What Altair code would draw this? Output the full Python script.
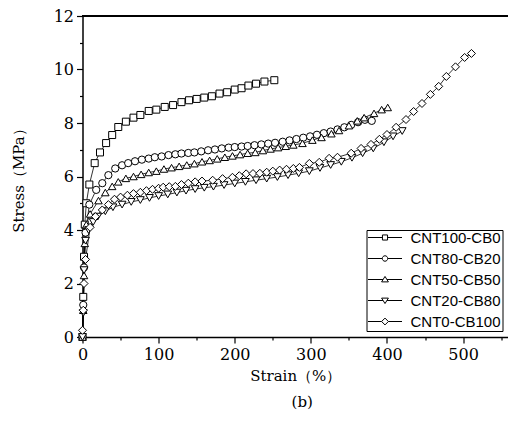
import altair as alt
import pandas as pd

series_names = ["CNT100-CB0", "CNT80-CB20", "CNT50-CB50", "CNT20-CB80", "CNT0-CB100"]

strain_100_0 = [0, 1, 2, 3, 5, 9, 16, 23, 31, 39, 47, 57, 67, 76, 87, 97, 108, 119, 130, 140,
                150, 160, 170, 180, 190, 200, 209, 218, 228, 239, 252]
stress_100_0 = [0, 1.5, 3.0, 4.2, 5.0, 5.7, 6.5, 6.9, 7.25, 7.55, 7.85, 8.05, 8.2, 8.3, 8.45, 8.5, 8.6,
                8.67, 8.78, 8.85, 8.9, 8.95, 9.0, 9.1, 9.15, 9.25, 9.3, 9.4, 9.47, 9.55, 9.6]

strain_80_20 = [0, 1, 2, 4, 9, 18, 26, 34, 43, 52, 60, 69, 78, 87, 95, 104, 113, 122, 130, 139,
                147, 156, 165, 174, 183, 192, 200, 209, 217, 226, 235, 244, 253, 263, 272, 281, 290,
                299, 308, 317, 326, 335, 344, 353, 362, 371, 380]
stress_80_20 = [0, 1.2, 2.6, 3.9, 4.95, 5.5, 5.75, 6.05, 6.3, 6.42, 6.5, 6.57, 6.63, 6.67, 6.72, 6.75,
                6.8, 6.83, 6.86, 6.88, 6.9, 6.94, 6.98, 7.01, 7.05, 7.08, 7.1, 7.12, 7.14, 7.17, 7.2,
                7.23, 7.26, 7.3, 7.35, 7.4, 7.45, 7.5, 7.56, 7.62, 7.68, 7.76, 7.84, 7.93, 8.03, 8.12, 8.08]

strain_50_50 = [0, 1, 2, 3, 5, 10, 21, 30, 39, 47, 57, 67, 77, 87, 97, 107, 117, 127, 137, 147,
                157, 167, 177, 187, 197, 207, 217, 227, 237, 247, 257, 267, 277, 289, 302, 314, 327,
                337, 350, 361, 370, 383, 393, 401]
stress_50_50 = [0, 1.0, 2.3, 3.5, 4.2, 4.6, 5.1, 5.4, 5.63, 5.8, 5.93, 6.0, 6.08, 6.15, 6.2, 6.28,
                6.33, 6.38, 6.43, 6.48, 6.55, 6.6, 6.66, 6.72, 6.77, 6.82, 6.87, 6.9, 6.97, 7.03, 7.08,
                7.13, 7.18, 7.24, 7.36, 7.46, 7.6, 7.72, 7.9, 8.08, 8.2, 8.36, 8.5, 8.58]

strain_20_80 = [0, 1, 2, 4, 8, 14, 20, 30, 40, 52, 64, 76, 88, 100, 112, 124, 136, 148, 160, 172,
                186, 200, 214, 228, 242, 256, 270, 284, 298, 312, 326, 340, 354, 368, 382, 396, 408, 420]
stress_20_80 = [0, 0.9, 2.5, 3.6, 4.0, 4.3, 4.5, 4.7, 4.85, 4.95, 5.05, 5.12, 5.2, 5.27, 5.33, 5.4,
                5.47, 5.53, 5.58, 5.62, 5.68, 5.74, 5.8, 5.86, 5.92, 5.98, 6.05, 6.12, 6.2, 6.32, 6.43,
                6.55, 6.7, 6.87, 7.05, 7.28, 7.5, 7.7]

strain_0_100 = [0, 1, 2, 4, 10, 17, 26, 34, 42, 50, 59, 67, 76, 84, 92, 100, 106, 114, 122, 130,
                139, 148, 157, 171, 184, 197, 206, 215, 224, 233, 242, 250, 259, 268, 277, 285, 298,
                311, 324, 335, 353, 366, 379, 390, 400, 412, 425, 435, 446, 457, 468, 478, 490, 502, 511]
stress_0_100 = [0.25, 1.0, 2.0, 2.9, 4.1, 4.5, 4.75, 4.95, 5.15, 5.23, 5.3, 5.36, 5.41, 5.47, 5.52,
                5.56, 5.6, 5.62, 5.63, 5.7, 5.75, 5.8, 5.83, 5.86, 5.92, 5.97, 6.03, 6.1, 6.11, 6.12,
                6.16, 6.2, 6.24, 6.27, 6.3, 6.34, 6.49, 6.53, 6.68, 6.72, 6.87, 7.05, 7.2, 7.39, 7.57,
                7.84, 8.13, 8.43, 8.73, 9.07, 9.37, 9.74, 10.1, 10.45, 10.6]

x_ticks = [0, 50, 100, 150, 200, 250, 300, 350, 400, 450, 500, 550]
y_ticks = list(range(0, 13))

all_series = [
    (series_names[0], strain_100_0, stress_100_0),
    (series_names[1], strain_80_20, stress_80_20),
    (series_names[2], strain_50_50, stress_50_50),
    (series_names[3], strain_20_80, stress_20_80),
    (series_names[4], strain_0_100, stress_0_100),
]
rows = []
for name, xs, ys in all_series:
    for i, (a, b) in enumerate(zip(xs, ys)):
        rows.append({"series": name, "strain": a, "stress": b, "idx": i})
df = pd.DataFrame(rows)

plot_shapes = ["square", "circle", "triangle-up", "triangle-down", "diamond"]
plot_sizes = [49, 64, 70, 70, 85]
legend_shapes = [
    "M-1,0H-0.15M0.15,0H1M-0.15,-0.15H0.15V0.15H-0.15Z",
    "M-1,0H-0.16M0.16,0H1M0.16,0A0.16,0.16,0,1,1,-0.16,0A0.16,0.16,0,1,1,0.16,0Z",
    "M-1,0H-0.12M0.12,0H1M0,-0.18L0.2,0.14H-0.2Z",
    "M-1,0H-0.12M0.12,0H1M0,0.18L0.2,-0.14H-0.2Z",
    "M-1,0H-0.2M0.2,0H1M0,-0.2L0.2,0L0,0.2L-0.2,0Z",
]

W, H = 425.5, 321
SERIF = "DejaVu Serif"

x_enc = alt.X(
    "strain:Q",
    scale=alt.Scale(domain=[0, 559], nice=False),
    axis=alt.Axis(
        values=x_ticks,
        labelExpr="datum.value % 100 == 0 ? datum.label : ''",
        tickSize={"condition": {"test": "datum.value % 100 == 0", "value": 6}, "value": 3},
        title="Strain（%）",
        grid=False, labelFlush=False, labelOverlap=False,
        labelFont=SERIF, labelFontSize=16, labelPadding=3,
        titleFont=SERIF, titleFontSize=15, titleFontWeight="normal", titlePadding=6,
        domainColor="black", domainWidth=1.5, tickColor="black", tickWidth=1.2,
        labelColor="black", titleColor="black",
    ),
)
y_enc = alt.Y(
    "stress:Q",
    scale=alt.Scale(domain=[0, 12], nice=False),
    axis=alt.Axis(
        values=y_ticks,
        labelExpr="datum.value % 2 == 0 ? datum.label : ''",
        tickSize={"condition": {"test": "datum.value % 2 == 0", "value": 6}, "value": 3},
        title="Stress（MPa）",
        grid=False, labelOverlap=False, labelFlush=False,
        labelFont=SERIF, labelFontSize=16, labelPadding=3,
        titleFont=SERIF, titleFontSize=15, titleFontWeight="normal", titlePadding=27,
        domainColor="black", domainWidth=1.5, tickColor="black", tickWidth=1.2,
        labelColor="black", titleColor="black",
    ),
)

base = alt.Chart(df)

lines = base.mark_line(color="black", strokeWidth=0.8).encode(
    x=x_enc, y=y_enc, detail="series:N", order="idx:Q"
)

points = base.mark_point(filled=True, fill="white", stroke="black", strokeWidth=1,
                         opacity=1).encode(
    x=x_enc, y=y_enc,
    shape=alt.Shape("series:N", scale=alt.Scale(domain=series_names, range=plot_shapes),
                    legend=None),
    size=alt.Size("series:N", scale=alt.Scale(domain=series_names, range=plot_sizes),
                  legend=None),
)

legend_layer = base.mark_point(
    filled=False, stroke="black", strokeWidth=1, size=1156, opacity=0
).encode(
    x=x_enc, y=y_enc,
    shape=alt.Shape(
        "series:N",
        scale=alt.Scale(domain=series_names, range=legend_shapes),
        legend=alt.Legend(
            title=None, orient="none", legendX=284, legendY=214,
            symbolSize=1156, symbolStrokeWidth=1, symbolStrokeColor="black",
            symbolOpacity=1, clipHeight=13,
            labelFont="Liberation Sans", labelFontSize=15, labelColor="black",
            labelOffset=8, padding=1, rowPadding=5,
            strokeColor="black", fillColor="white", cornerRadius=0,
        ),
    ),
)

top_rule = alt.Chart(df).mark_rule(color="black", strokeWidth=1.5).encode(
    x=alt.value(0), x2=alt.value(W), y=alt.value(0)
)

chart = alt.layer(lines, points, legend_layer, top_rule).resolve_scale(
    shape="independent"
).properties(
    width=W, height=H,
    autosize=alt.AutoSizeParams(type="none"),
    padding={"left": 74.5, "top": 8, "right": 0, "bottom": 79},
    title=alt.TitleParams("(b)", orient="bottom", font=SERIF, fontSize=15,
                          fontWeight="normal", color="black", frame="group",
                          dx=7, offset=12),
).configure_view(strokeWidth=0)

chart.save("out.html", embed_options={"renderer": "svg", "actions": False})
